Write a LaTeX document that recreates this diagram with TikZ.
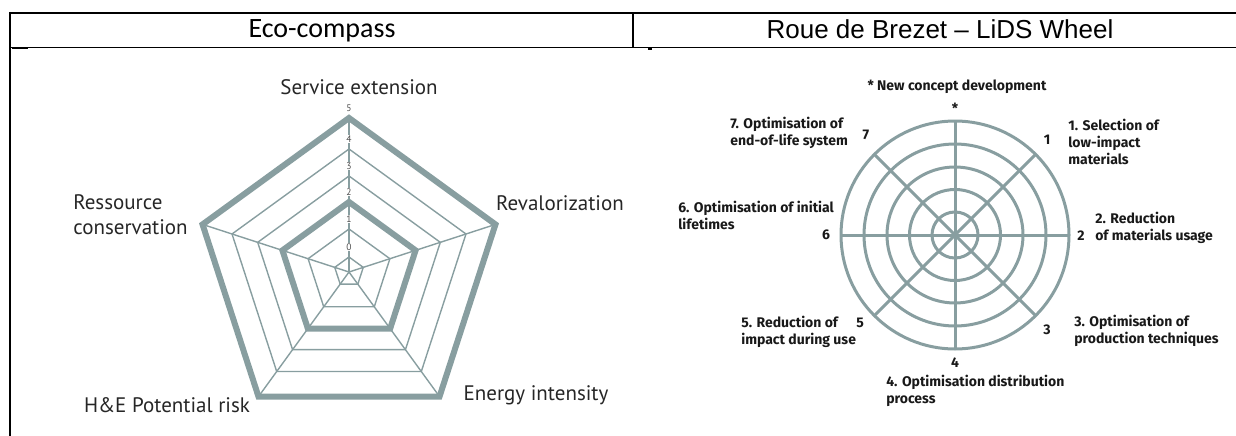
\documentclass[tikz,border=0pt]{standalone}
\usepackage{fontspec}
\setmainfont{PT Sans}
\newfontfamily\calibri{Carlito}
\newfontfamily\arial{Liberation Sans}
\newfontfamily\lidsfont{Fira Sans}
\usepackage{tikz}
\usetikzlibrary{positioning,calc}
\definecolor{chartgrey}{RGB}{136,158,160}
\tikzset{ring/.style={draw=chartgrey,line width=1.4pt,line join=miter},
  thickring/.style={draw=chartgrey,line width=6pt,line join=miter},
  wheel/.style={draw=chartgrey,line width=3pt},
  axislabel/.style={font=\fontsize{21}{25}\selectfont,text=black!85,inner sep=0pt},
  scalenum/.style={font=\fontsize{9.5}{10}\selectfont,text=black!70,fill=white,inner sep=0.6pt},
  lidslabel/.style={font=\lidsfont\bfseries\fontsize{14}{17}\selectfont,align=left,inner sep=0pt,text=black!90},
  lidsnum/.style={font=\lidsfont\bfseries\fontsize{14}{15}\selectfont,inner sep=0pt,text=black!90}}

\begin{document}
\begin{tikzpicture}[x=1pt, y=1pt, semithick]
\useasboundingbox (0,0) rectangle (1236,-436);
    % table frame
    \draw[line width=2pt] (10,-13) -- (1236,-13);
    \draw[line width=1pt] (10,-48) -- (1236,-48);
    \draw[line width=2pt] (10,-12) -- (10,-436);
    \draw[line width=1.5pt] (633,-13) -- (633,-48);
    \draw[line width=2pt] (12,-48.5) -- (28,-48.5);
    \draw[line width=2pt] (648,-49) -- (652,-49);
    \node (head1) at (322,-31) {\calibri\fontsize{28}{30}\selectfont Eco-compass};
    \node (head2) at (940,-29) {\arial\fontsize{26}{28}\selectfont Roue de Brezet – LiDS Wheel};

    % eco-compass
    \coordinate (ec) at (349,-272);
    \begin{scope}[shift={(ec)}]
    \foreach \r in {15,43,96,123}
        \draw[ring] (90:\r) -- (162:\r) -- (234:\r) -- (306:\r) -- (18:\r) -- cycle;
    \foreach \a in {90,162,234,306,18}
        \draw[ring] (0,0) -- (\a:154);
    \foreach \r in {70,154}
        \draw[thickring] (90:\r) -- (162:\r) -- (234:\r) -- (306:\r) -- (18:\r) -- cycle;
    \foreach \n/\r in {0/15,1/43,2/70,3/96,4/123,5/154}
        \node[scalenum] (lvl\n) at (0,\r+10) {\n};
    \end{scope}
    \node[axislabel] (service) at (359,-87) {Service extension};
    \node[axislabel] (reval) at (560,-203) {Revalorization};
    \node[axislabel,align=left,anchor=west] (ressource) at (73,-215) {Ressource\\conservation};
    \node[axislabel] (risk) at (167,-405) {H\&E Potential risk};
    \node[axislabel] (energy) at (536,-395) {Energy intensity};

    % LiDS wheel
    \coordinate (wc) at (955,-235);
    \foreach \r in {23,45.5,68,91,114}
        \draw[wheel] (wc) circle (\r);
    \foreach \a in {0,45,...,315}
        \draw[wheel] (wc) -- ++(\a:114);
    \node[lidsnum] (n0) at (955,-108) {*};
    \node[lidsnum] (n1) at (1047,-140) {1};
    \node[lidsnum] (n2) at (1081,-236) {2};
    \node[lidsnum] (n3) at (1047,-330) {3};
    \node[lidsnum] (n4) at (955,-363) {4};
    \node[lidsnum] (n5) at (860,-323) {5};
    \node[lidsnum] (n6) at (826,-235) {6};
    \node[lidsnum] (n7) at (866,-135) {7};

    \node[lidslabel] (newconcept) at (957,-87) {* New concept development};
    \node[lidslabel,anchor=west] (sel) at (1068,-141.5) {1. Selection of\\low-impact\\materials};
    \node[lidslabel,anchor=west] (red) at (1095,-228) {2. Reduction\\of materials usage};
    \node[lidslabel,anchor=west] (prod) at (1074,-330.5) {3. Optimisation of\\production techniques};
    \node[lidslabel,anchor=west] (distr) at (886,-390.5) {4. Optimisation distribution\\process};
    \node[lidslabel,anchor=west] (use) at (741,-331.5) {5. Reduction of\\impact during use};
    \node[lidslabel,anchor=west] (life) at (678,-215) {6. Optimisation of initial\\lifetimes};
    \node[lidslabel,anchor=west] (eol) at (730,-132.5) {7. Optimisation of\\end-of-life system};
\end{tikzpicture}
\end{document}
